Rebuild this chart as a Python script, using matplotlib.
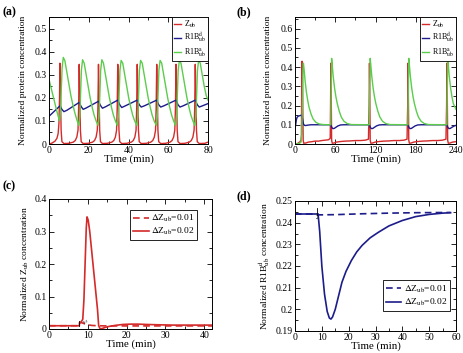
import matplotlib
matplotlib.use('Agg')
import matplotlib.pyplot as plt
from matplotlib.ticker import MultipleLocator, FuncFormatter

plt.rcParams['font.family'] = ['Liberation Serif', 'DejaVu Serif']
plt.rcParams['mathtext.fontset'] = 'stix'

# ---- panel (a): oscillations, 0-80 min ----
a_red_t = [0, 1.5, 3, 4, 4.6, 5.0, 5.3, 5.5, 5.8, 6.1, 6.5, 7.5,
           10.0, 12.2, 13.2, 14.0, 14.6, 14.9, 15.2, 15.5, 15.8, 16.2, 17.2,
           19.7, 21.9, 22.9, 23.7, 24.3, 24.6, 24.9, 25.2, 25.5, 25.9, 26.9,
           29.4, 31.6, 32.6, 33.4, 34.0, 34.3, 34.6, 34.9, 35.2, 35.6, 36.6,
           39.2, 41.4, 42.4, 43.2, 43.8, 44.1, 44.4, 44.7, 45.0, 45.4, 46.4,
           49.0, 51.2, 52.2, 53.0, 53.6, 53.9, 54.2, 54.5, 54.8, 55.2, 56.2,
           58.7, 60.9, 61.9, 62.7, 63.3, 63.6, 63.9, 64.2, 64.5, 64.9, 65.9,
           68.4, 70.6, 71.6, 72.4, 73.0, 73.3, 73.6, 73.9, 74.2, 74.6, 75.6,
           78.4, 80.0]
a_red_v = [0.0, 0.004, 0.012, 0.025, 0.045, 0.09, 0.2, 0.35, 0.2, 0.06, 0.01, 0.002,
           0.003, 0.008, 0.015, 0.03, 0.06, 0.15, 0.345, 0.2, 0.06, 0.01, 0.002,
           0.003, 0.008, 0.015, 0.03, 0.06, 0.15, 0.345, 0.2, 0.06, 0.01, 0.002,
           0.003, 0.008, 0.015, 0.03, 0.06, 0.15, 0.345, 0.2, 0.06, 0.01, 0.002,
           0.003, 0.008, 0.015, 0.03, 0.06, 0.15, 0.345, 0.2, 0.06, 0.01, 0.002,
           0.003, 0.008, 0.015, 0.03, 0.06, 0.15, 0.345, 0.2, 0.06, 0.01, 0.002,
           0.003, 0.008, 0.015, 0.03, 0.06, 0.15, 0.345, 0.2, 0.06, 0.01, 0.002,
           0.003, 0.008, 0.015, 0.03, 0.06, 0.15, 0.345, 0.2, 0.06, 0.01, 0.002,
           0.003, 0.008]

a_blue_t = [0, 5.5, 6.5, 7.5, 9.0, 15.2, 16.2, 17.2, 18.7, 24.9, 25.9, 26.9, 28.4,
            34.6, 35.6, 36.6, 38.1, 44.4, 45.4, 46.4, 47.9, 54.2, 55.2, 56.2, 57.7,
            63.9, 64.9, 65.9, 67.4, 73.6, 74.6, 75.6, 77.1, 80.0]
a_blue_v = [0.12, 0.165, 0.15, 0.14, 0.146, 0.18, 0.162, 0.15, 0.156, 0.185, 0.167, 0.155, 0.161,
            0.19, 0.17, 0.158, 0.164, 0.19, 0.17, 0.16, 0.165, 0.19, 0.17, 0.16, 0.165,
            0.19, 0.17, 0.16, 0.165, 0.19, 0.17, 0.16, 0.165, 0.175]

a_green_t = [0, 1, 2, 3, 4, 5.3, 5.8, 6.2, 6.6, 7.2, 8.0, 9.0, 10.0, 11.0, 12.0, 13.0, 14.0, 15.0,
             15.5, 15.9, 16.3, 16.9, 17.7, 18.7, 19.7, 20.7, 21.7, 22.7, 23.7, 24.7,
             25.2, 25.6, 26.0, 26.6, 27.4, 28.4, 29.4, 30.4, 31.4, 32.4, 33.4, 34.4,
             34.9, 35.3, 35.7, 36.3, 37.1, 38.1, 39.1, 40.1, 41.1, 42.1, 43.1, 44.2,
             44.7, 45.1, 45.5, 46.1, 46.9, 47.9, 48.9, 49.9, 50.9, 51.9, 52.9, 54.0,
             54.5, 54.9, 55.3, 55.9, 56.7, 57.7, 58.7, 59.7, 60.7, 61.7, 62.7, 63.7,
             64.2, 64.6, 65.0, 65.6, 66.4, 67.4, 68.4, 69.4, 70.4, 71.4, 72.4, 73.4,
             73.9, 74.3, 74.7, 75.3, 76.1, 77.1, 78.1, 79.1, 80.0]
a_green_v = [0.28, 0.245, 0.21, 0.175, 0.14, 0.1, 0.14, 0.24, 0.33, 0.375, 0.36, 0.31, 0.26, 0.21, 0.17, 0.135, 0.105, 0.08,
             0.12, 0.22, 0.32, 0.365, 0.35, 0.3, 0.25, 0.2, 0.16, 0.125, 0.1, 0.08,
             0.12, 0.22, 0.32, 0.365, 0.35, 0.3, 0.25, 0.2, 0.16, 0.125, 0.1, 0.08,
             0.12, 0.22, 0.32, 0.362, 0.35, 0.3, 0.25, 0.2, 0.16, 0.125, 0.1, 0.08,
             0.12, 0.22, 0.32, 0.362, 0.35, 0.3, 0.25, 0.2, 0.16, 0.125, 0.1, 0.08,
             0.12, 0.22, 0.32, 0.362, 0.35, 0.3, 0.25, 0.2, 0.16, 0.125, 0.1, 0.08,
             0.12, 0.22, 0.32, 0.362, 0.35, 0.3, 0.25, 0.2, 0.16, 0.125, 0.1, 0.08,
             0.12, 0.22, 0.32, 0.362, 0.35, 0.3, 0.25, 0.21, 0.19]

# ---- panel (b): 0-240 min ----
b_red_t = [0, 4, 7, 9, 9.6, 10.0, 10.5, 11.0, 11.6, 12.2, 13, 16, 20, 25, 30, 35, 40, 45, 50,
           52.5, 53.0, 53.5, 54.0, 54.6, 55.5, 58, 62, 68, 75, 82, 90, 98, 105,
           109.5, 110.5, 111, 111.5, 112.1, 113, 115.5, 119.5, 125.5, 132.5, 139.5, 147.5, 155.5, 162.5,
           167, 168, 168.5, 169, 169.6, 170.5, 173, 177, 183, 190, 197, 205, 213, 220,
           225, 226, 226.5, 227, 227.6, 228.5, 231, 235, 240]
b_red_v = [0.0, 0.003, 0.01, 0.02, 0.05, 0.3, 0.43, 0.42, 0.2, 0.02, 0.004, 0.005, 0.01, 0.012, 0.015, 0.015, 0.018, 0.02, 0.022,
           0.03, 0.2, 0.42, 0.25, 0.02, 0.004, 0.005, 0.01, 0.013, 0.015, 0.016, 0.018, 0.018, 0.02,
           0.025, 0.2, 0.42, 0.25, 0.02, 0.004, 0.005, 0.01, 0.013, 0.015, 0.016, 0.018, 0.018, 0.02,
           0.025, 0.2, 0.42, 0.25, 0.02, 0.004, 0.005, 0.01, 0.013, 0.015, 0.016, 0.018, 0.018, 0.02,
           0.025, 0.2, 0.42, 0.25, 0.02, 0.004, 0.005, 0.01, 0.012]

b_blue_t = [0, 1, 2, 3, 5, 8, 9.5, 10.5, 11.5, 12.5, 14, 16, 19, 24,
            53, 54, 55, 56.5, 58.5, 61, 64, 68, 73,
            110.5, 111.5, 112.5, 114, 116, 118.5, 121.5, 125.5, 130.5,
            168, 169, 170, 171.5, 173.5, 176, 179, 183, 188,
            226, 227, 228, 229.5, 231.5, 234, 237, 240]
b_blue_v = [0.08, 0.1, 0.125, 0.138, 0.145, 0.148, 0.15, 0.145, 0.125, 0.105, 0.097, 0.096, 0.098, 0.1,
            0.1, 0.094, 0.085, 0.08, 0.081, 0.087, 0.094, 0.099, 0.1,
            0.1, 0.094, 0.085, 0.08, 0.081, 0.087, 0.094, 0.099, 0.1,
            0.1, 0.094, 0.085, 0.08, 0.081, 0.087, 0.094, 0.099, 0.1,
            0.1, 0.094, 0.085, 0.08, 0.081, 0.087, 0.093, 0.097]

b_green_t = [0, 6, 9, 10, 11, 11.8, 12.5, 13.5, 15, 17, 19, 21, 24, 27, 31, 36, 42,
             53.3, 53.8, 54.6, 55.5, 57, 59, 61, 63, 66, 69, 73, 78, 84,
             110.8, 111.3, 112.1, 113, 114.5, 116.5, 118.5, 120.5, 123.5, 126.5, 130.5, 135.5, 141.5,
             168.3, 168.8, 169.6, 170.5, 172, 174, 176, 178, 181, 184, 188, 193, 199,
             226.3, 226.8, 227.6, 228.5, 230, 232, 234, 236, 240]
b_green_v = [0.0, 0.002, 0.01, 0.04, 0.2, 0.38, 0.42, 0.39, 0.33, 0.27, 0.225, 0.19, 0.155, 0.13, 0.113, 0.104, 0.101,
             0.1, 0.25, 0.445, 0.41, 0.35, 0.29, 0.245, 0.21, 0.17, 0.14, 0.118, 0.106, 0.101,
             0.1, 0.25, 0.445, 0.41, 0.35, 0.29, 0.245, 0.21, 0.17, 0.14, 0.118, 0.106, 0.101,
             0.1, 0.25, 0.445, 0.41, 0.35, 0.29, 0.245, 0.21, 0.17, 0.14, 0.118, 0.106, 0.101,
             0.1, 0.25, 0.445, 0.41, 0.35, 0.29, 0.245, 0.21, 0.18]

# ---- panel (c): Zub response to a pulse ----
c_solid_t = [0, 7.8, 7.9, 8.3, 8.7, 9.0, 9.3, 9.6, 9.8, 10.1, 10.5, 11.0, 11.5, 12.0, 12.5, 12.8,
             13.2, 13.8, 14.5, 15.5, 17, 19, 21, 23, 25, 28, 32, 36, 42]
c_solid_v = [0.01, 0.01, 0.02, 0.022, 0.03, 0.09, 0.2, 0.31, 0.345, 0.335, 0.3, 0.24, 0.18, 0.12, 0.06, 0.01,
             0.0, 0.002, 0.005, 0.008, 0.011, 0.014, 0.015, 0.015, 0.014, 0.013, 0.012, 0.012, 0.012]
c_dash_t = [0, 7.8, 7.9, 8.5, 9.2, 10, 11, 12.5, 15, 42]
c_dash_v = [0.01, 0.01, 0.02, 0.019, 0.016, 0.013, 0.011, 0.01, 0.0095, 0.0095]

# ---- panel (d): R1B^d_ub response ----
d_solid_t = [0, 8.6, 9.2, 10, 11, 12, 12.8, 13.4, 14, 15, 16, 17.5, 19, 21, 23, 25, 28, 31, 35,
             40, 45, 50, 55, 58]
d_solid_v = [0.244, 0.244, 0.236, 0.22, 0.207, 0.199, 0.196, 0.1955, 0.1965, 0.2, 0.205, 0.2125, 0.2175,
             0.2225, 0.2265, 0.2295, 0.233, 0.2355, 0.2385, 0.241, 0.2428, 0.2438, 0.2444, 0.2446]
d_dash_t = [0, 8.3, 9, 15, 25, 35, 45, 58]
d_dash_v = [0.244, 0.244, 0.2436, 0.2437, 0.2441, 0.2444, 0.2446, 0.2447]

red = '#d42a2a'
navy = '#1c1c8a'
green = '#5ccc4c'

fig = plt.figure(figsize=(4.64, 3.53), dpi=100)
W, H = 464.0, 353.0


def box(l, t, r, b):
    return [l / W, 1 - b / H, (r - l) / W, (b - t) / H]


ax_a = fig.add_axes(box(49, 17, 208, 144))
ax_b = fig.add_axes(box(295, 17, 456, 144))
ax_c = fig.add_axes(box(49, 199, 212, 329))
ax_d = fig.add_axes(box(295, 201, 456, 331))

fmt = FuncFormatter(lambda v, p: '%g' % round(v, 4))


def style(ax, xmaj, ymaj):
    ax.xaxis.set_major_locator(MultipleLocator(xmaj))
    ax.xaxis.set_minor_locator(MultipleLocator(xmaj / 2))
    ax.yaxis.set_major_locator(MultipleLocator(ymaj))
    ax.yaxis.set_minor_locator(MultipleLocator(ymaj / 2))
    ax.yaxis.set_major_formatter(fmt)
    ax.tick_params(which='both', direction='in', top=True, right=True, width=0.6,
                   labelsize=7, pad=1.5)
    ax.tick_params(which='major', length=3.5)
    ax.tick_params(which='minor', length=2)
    for s in ax.spines.values():
        s.set_linewidth(0.7)
    ax.set_xlabel('Time (min)', fontsize=7.8, labelpad=-0.5)


def frame(leg):
    leg.get_frame().set_edgecolor('black')
    leg.get_frame().set_linewidth(0.6)


lw = 1.0
zlab = r'Z$_{\rm ub}$'
dlab = r'R1B$^{\rm d}_{\rm ub}$'
alab = r'R1B$^{\rm a}_{\rm ub}$'

# (a)
ax_a.plot(a_red_t, a_red_v, color=red, lw=lw, label=zlab)
ax_a.plot(a_blue_t, a_blue_v, color=navy, lw=lw, label=dlab)
ax_a.plot(a_green_t, a_green_v, color=green, lw=lw, label=alab)
ax_a.set_xlim(0, 80)
ax_a.set_ylim(0, 0.55)
style(ax_a, 20, 0.1)
ax_a.set_ylabel('Normalized protein concentration', fontsize=6.8)

# (b)
ax_b.plot(b_red_t, b_red_v, color=red, lw=lw, label=zlab)
ax_b.plot(b_blue_t, b_blue_v, color=navy, lw=lw, label=dlab)
ax_b.plot(b_green_t, b_green_v, color=green, lw=lw, label=alab)
ax_b.set_xlim(0, 240)
ax_b.set_ylim(0, 0.66)
style(ax_b, 60, 0.1)
ax_b.set_ylabel('Normalized protein concentration', fontsize=6.8)

for ax in (ax_a, ax_b):
    leg = ax.legend(loc='upper right', fontsize=5.8, handlelength=0.9, handletextpad=0.35,
                    borderpad=0.25, labelspacing=0.12, borderaxespad=0, fancybox=False,
                    framealpha=1)
    frame(leg)

# (c)
ax_c.plot(c_dash_t, c_dash_v, color=red, lw=1.2, ls=(0, (4, 2.5)), label=r'$\Delta$Z$_{\rm ub}$=0.01')
ax_c.plot(c_solid_t, c_solid_v, color=red, lw=1.2, label=r'$\Delta$Z$_{\rm ub}$=0.02')
ax_c.plot([7.8, 7.8], [0.01, 0.026], color='black', lw=0.6)
ax_c.text(8.1, 0.02, '2', fontsize=4, rotation=-60)
ax_c.set_xlim(0, 42)
ax_c.set_ylim(0, 0.4)
style(ax_c, 10, 0.1)
ax_c.set_ylabel(r'Normalized Z$_{\rm ub}$ concentration', fontsize=6.8)
leg = ax_c.legend(loc='upper right', fontsize=6.8, handlelength=1.6, handletextpad=0.25,
                  borderpad=0.35, labelspacing=0.2, bbox_to_anchor=(0.94, 0.955), fancybox=False,
                  framealpha=1)
frame(leg)

# (d)
ax_d.plot(d_dash_t, d_dash_v, color=navy, lw=1.2, ls=(0, (4, 2.5)), label=r'$\Delta$Z$_{\rm ub}$=0.01')
ax_d.plot(d_solid_t, d_solid_v, color=navy, lw=1.2, label=r'$\Delta$Z$_{\rm ub}$=0.02')
ax_d.plot([8.3, 8.3], [0.2436, 0.2466], color='black', lw=0.6)
ax_d.text(7.6, 0.2418, '2', fontsize=4)
ax_d.set_xlim(0, 60)
ax_d.set_ylim(0.19, 0.25)
style(ax_d, 10, 0.01)
ax_d.set_ylabel(r'Normalized R1B$^{\rm d}_{\rm ub}$ concentration', fontsize=6.8)
leg = ax_d.legend(loc='lower right', fontsize=6.8, handlelength=1.6, handletextpad=0.25,
                  borderpad=0.35, labelspacing=0.2, bbox_to_anchor=(0.995, 0.115), fancybox=False,
                  framealpha=1)
frame(leg)

ax_a.yaxis.set_label_coords(-0.138, 0.5)
ax_b.yaxis.set_label_coords(-0.143, 0.5)
ax_c.yaxis.set_label_coords(-0.11, 0.5)
ax_d.yaxis.set_label_coords(-0.143, 0.5)

fig.text(3 / W, 1 - 15 / H, '(a)', fontsize=8.5, fontweight='bold')
fig.text(237 / W, 1 - 15 / H, '(b)', fontsize=8.5, fontweight='bold')
fig.text(3 / W, 1 - 189 / H, '(c)', fontsize=8.5, fontweight='bold')
fig.text(237 / W, 1 - 199 / H, '(d)', fontsize=8.5, fontweight='bold')

fig.savefig('out.png', dpi=100)
